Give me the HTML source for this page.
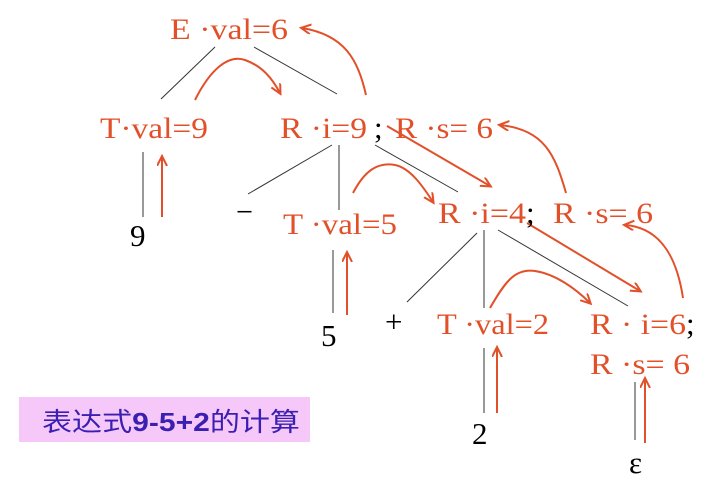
<!DOCTYPE html>
<html><head><meta charset="utf-8"><style>
html,body{margin:0;padding:0;background:#fff;width:720px;height:491px;overflow:hidden}
svg{display:block}
.o{fill:#e2502a;font-family:"Liberation Serif",serif;font-size:30px}
.k{fill:#000;font-family:"Liberation Serif",serif;font-size:31px}
</style></head><body>
<svg width="720" height="491" viewBox="0 0 720 491" xmlns="http://www.w3.org/2000/svg">
<defs><marker id="a" markerWidth="12" markerHeight="12" refX="9" refY="5" orient="auto" markerUnits="userSpaceOnUse"><path d="M0,0 L10,5 L0,10" fill="none" stroke="#e2502a" stroke-width="2"/></marker></defs>
<g stroke="#333" stroke-width="1" fill="none">
<line x1="215" y1="47" x2="161" y2="99"/>
<line x1="254" y1="47" x2="337" y2="94"/>
<line x1="143" y1="152" x2="143" y2="217"/>
<line x1="332" y1="145" x2="248" y2="194"/>
<line x1="339" y1="145" x2="339" y2="210"/>
<line x1="375" y1="145" x2="458" y2="192"/>
<line x1="333" y1="250" x2="333" y2="313"/>
<line x1="477" y1="233" x2="407" y2="302"/>
<line x1="484" y1="230" x2="484" y2="308"/>
<line x1="498" y1="230" x2="628" y2="306"/>
<line x1="484" y1="348" x2="484" y2="413"/>
<line x1="635" y1="382" x2="635" y2="440"/>
</g>
<g stroke="#e2502a" stroke-width="2" fill="none" marker-end="url(#a)">
<line x1="162" y1="217" x2="162" y2="157"/>
<path d="M195,100 C210,70 228,54 245,60 C262,66 272,78 280,93"/>
<path d="M366,95 C358,60 345,35 302,28"/>
<line x1="387" y1="126" x2="490" y2="186"/>
<path d="M353,193 C365,170 378,162 395,165 C410,168 422,185 433,202"/>
<line x1="347" y1="315" x2="347" y2="253"/>
<path d="M566,193 C555,155 545,130 500,125"/>
<line x1="527" y1="223" x2="640" y2="291"/>
<path d="M490,308 C505,282 515,268 535,271 C555,274 575,288 590,303"/>
<path d="M683,298 C678,265 665,228 625,225"/>
<line x1="497" y1="413" x2="497" y2="348"/>
<line x1="645" y1="443" x2="645" y2="379"/>
</g>
<text class="o" x="170" y="39" textLength="118" lengthAdjust="spacingAndGlyphs">E ·val=6</text>
<text class="o" x="100" y="138" textLength="108" lengthAdjust="spacingAndGlyphs">T·val=9</text>
<text class="o" x="280" y="138" textLength="87" lengthAdjust="spacingAndGlyphs">R ·i=9</text>
<text class="k" x="374" y="138">;</text>
<text class="o" x="395" y="138" textLength="98" lengthAdjust="spacingAndGlyphs">R ·s= 6</text>
<text class="k" x="130" y="246">9</text>
<text class="k" x="236" y="222" textLength="17" lengthAdjust="spacingAndGlyphs">−</text>
<text class="o" x="283" y="234" textLength="114" lengthAdjust="spacingAndGlyphs">T ·val=5</text>
<text class="o" x="438" y="223" textLength="88" lengthAdjust="spacingAndGlyphs">R ·i=4</text>
<text class="k" x="526" y="223">;</text>
<text class="o" x="553" y="223" textLength="100" lengthAdjust="spacingAndGlyphs">R ·s= 6</text>
<text class="k" x="321" y="346">5</text>
<text class="k" x="385" y="332">+</text>
<text class="o" x="437" y="334" textLength="112" lengthAdjust="spacingAndGlyphs">T ·val=2</text>
<text class="o" x="590" y="334" textLength="96" lengthAdjust="spacingAndGlyphs">R · i=6</text>
<text class="k" x="686" y="334">;</text>
<text class="o" x="590" y="374" textLength="100" lengthAdjust="spacingAndGlyphs">R ·s= 6</text>
<text class="k" x="472" y="444">2</text>
<text class="k" x="629" y="473">ε</text>
<rect x="19" y="397" width="291" height="45" fill="#f6c8fa"/>
<text x="42" y="431" fill="#3a1fb0" font-family="'Liberation Sans','Noto Sans CJK SC',sans-serif" font-size="26" textLength="258" lengthAdjust="spacingAndGlyphs">表达式<tspan font-weight="bold">9-5+2</tspan>的计算</text>
</svg>
</body></html>
